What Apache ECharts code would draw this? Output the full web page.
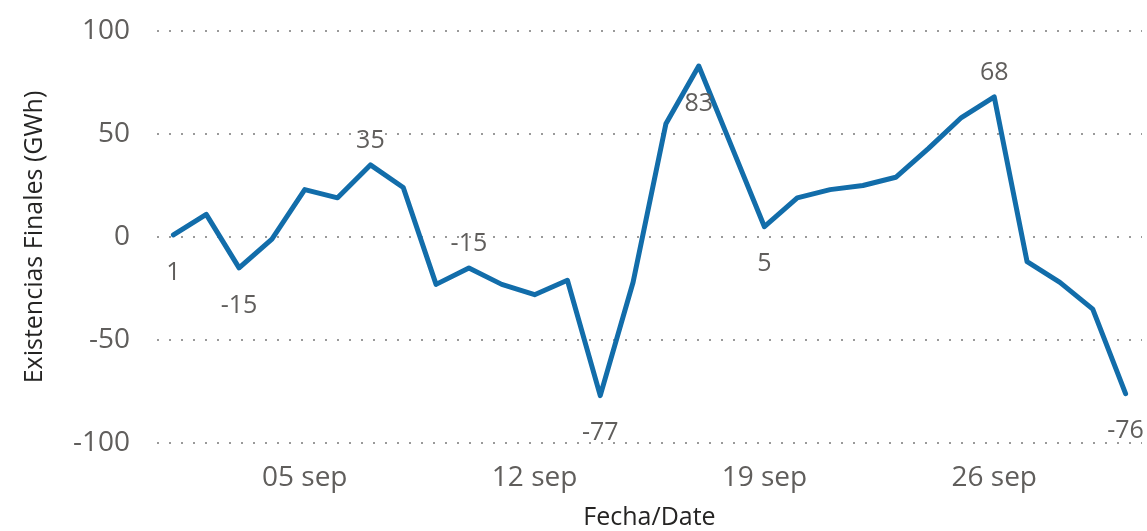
<!DOCTYPE html>
<html>
<head>
<meta charset="utf-8">
<script src="https://cdn.jsdelivr.net/npm/echarts@6/dist/echarts.min.js"></script>
<style>
  html, body { margin: 0; padding: 0; background: #fff; }
  #chart { width: 1147px; height: 531px; }
</style>
</head>
<body>
<div id="chart"></div>
<script>
// dias de septiembre
var fechas = ['01 sep', '02 sep', '03 sep', '04 sep', '05 sep', '06 sep', '07 sep', '08 sep', '09 sep', '10 sep',
	'11 sep', '12 sep', '13 sep', '14 sep', '15 sep', '16 sep', '17 sep', '18 sep', '19 sep', '20 sep',
	'21 sep', '22 sep', '23 sep', '24 sep', '25 sep', '26 sep', '27 sep', '28 sep', '29 sep', '30 sep'];
var existencias = [1, 11, -15, -1, 23, 19, 35, 24, -23, -15,
	-23, -28, -21, -77, -22, 55, 83, 44, 5, 19,
	23, 25, 29, 43, 58, 68, -12, -22, -35, -76];
// etiquetas visibles y su posicion
var etiquetasIdx = [0, 2, 6, 9, 13, 16, 18, 25, 29];
var etiquetasPos = ['bottom', 'bottom', 'top', 'top', 'bottom', 'bottom', 'bottom', 'top', 'bottom'];
var ticksX = ['05 sep', '12 sep', '19 sep', '26 sep'];
var ticksY = [-100, -50, 0, 50, 100];

var fuente = '"Segoe UI", "Open Sans", "Noto Sans", sans-serif';

var datos = existencias.map(function(v, i) {
	var k = etiquetasIdx.indexOf(i);
	if (k < 0) return v;
	var top = etiquetasPos[k] == 'top';
	return {
		value: v,
		label: {
			show: true,
			position: etiquetasPos[k],
			distance: top ? 11 : 25
		}
	};
});

var myChart = echarts.init(document.getElementById('chart'));
var option = {
	animation: false,
	grid: {
		left: 157,
		right: 5,
		top: 31,
		bottom: 88,
		containLabel: false,
		outerBoundsMode: 'none'
	},
	xAxis: {
		type: 'category',
		data: fechas,
		boundaryGap: true,
		name: 'Fecha/Date',
		nameLocation: 'middle',
		nameGap: 62,
		nameTextStyle: { fontFamily: fuente, fontSize: 25, fontWeight: 500, color: '#252423' },
		axisLine: { show: false },
		axisTick: { show: false },
		axisLabel: {
			interval: function(i, val) { return ticksX.indexOf(val) >= 0; },
			margin: 21,
			fontFamily: fuente,
			fontSize: 28,
			color: '#605E5C'
		}
	},
	yAxis: {
		type: 'value',
		min: ticksY[0],
		max: ticksY[ticksY.length - 1],
		interval: 50,
		name: 'Existencias Finales (GWh)',
		nameLocation: 'middle',
		nameGap: 110,
		nameTextStyle: { fontFamily: fuente, fontSize: 25, fontWeight: 500, color: '#252423' },
		axisLine: { show: false },
		axisTick: { show: false },
		axisLabel: {
			margin: 27,
			fontFamily: fuente,
			fontSize: 28,
			color: '#605E5C'
		},
		splitLine: {
			lineStyle: { type: [2, 10], width: 2, color: '#9a9a9a' }
		}
	},
	series: [{
		type: 'line',
		data: datos,
		symbol: 'circle',
		symbolSize: 0.1,
		showSymbol: true,
		lineStyle: { color: '#126DAA', width: 5, join: 'round', cap: 'round' },
		itemStyle: { color: '#126DAA' },
		label: {
			fontFamily: fuente,
			fontSize: 25,
			color: '#605E5C'
		},
		labelLayout: { hideOverlap: false }
	}]
};
myChart.setOption(option);
</script>
</body>
</html>
